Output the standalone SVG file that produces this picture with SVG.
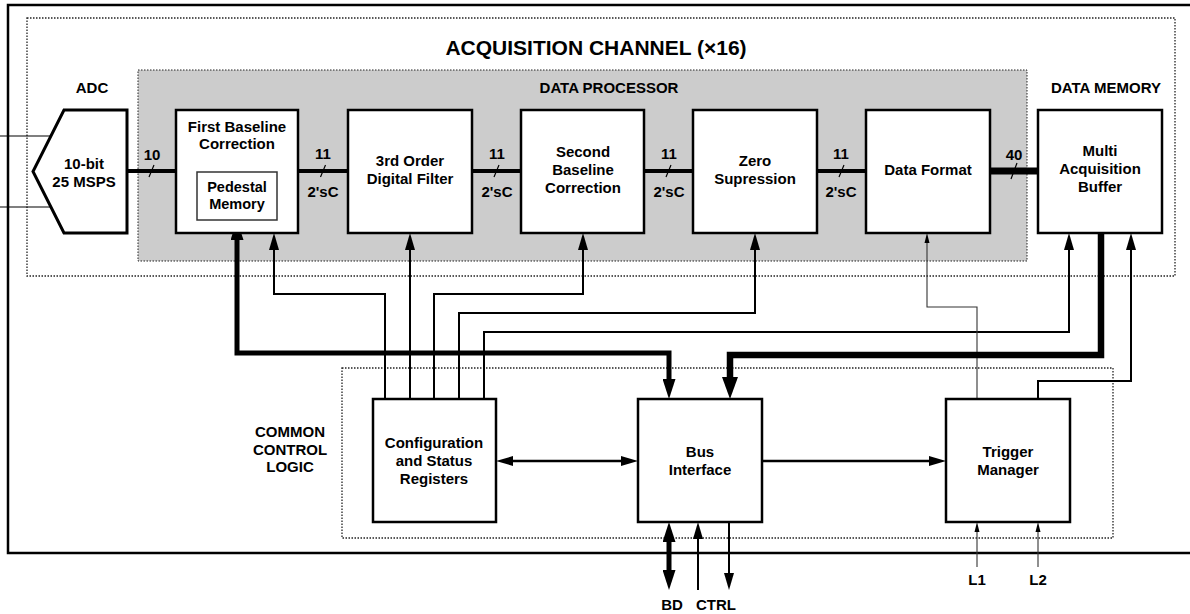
<svg xmlns="http://www.w3.org/2000/svg" width="1190" height="614" viewBox="0 0 1190 614">
<style>
text{font-family:"Liberation Sans",Arial,Helvetica,sans-serif;font-weight:bold;font-size:15px;fill:#000;text-anchor:middle}
.title{font-size:21px}
.small{font-size:14.5px}
.box{fill:#fff;stroke:#000;stroke-width:2.5}
.inner{fill:#fff;stroke:#333;stroke-width:1.5}
.dot{fill:none;stroke:#222;stroke-width:1.3;stroke-dasharray:1.5 1.5}
.grey{fill:#cccccc;stroke:#222;stroke-width:1;stroke-dasharray:1.5 1.5}
.frame{fill:none;stroke:#000;stroke-width:2.5}
.bus{fill:none;stroke:#000;stroke-width:4}
.bus40{fill:none;stroke:#000;stroke-width:7}
.tick{fill:none;stroke:#000;stroke-width:1.2}
.ctl{fill:none;stroke:#000;stroke-width:2;marker-end:url(#ah)}
.thin{fill:none;stroke:#333;stroke-width:1.1;marker-end:url(#as)}
.in{fill:none;stroke:#000;stroke-width:1.2}
</style>
<defs>
<marker id="ah" markerUnits="userSpaceOnUse" markerWidth="17" markerHeight="10" refX="2" refY="5" orient="auto-start-reverse"><path d="M0,0 L17,5 L0,10 z" fill="#000"/></marker>
<marker id="at" markerUnits="userSpaceOnUse" markerWidth="20" markerHeight="13" refX="2" refY="6.5" orient="auto-start-reverse"><path d="M0,0 L20,6.5 L0,13 z" fill="#000"/></marker>
<marker id="aH" markerUnits="userSpaceOnUse" markerWidth="22" markerHeight="16" refX="2" refY="8" orient="auto-start-reverse"><path d="M0,0 L22,8 L0,16 z" fill="#000"/></marker>
<marker id="as" markerUnits="userSpaceOnUse" markerWidth="10" markerHeight="6" refX="2" refY="3" orient="auto-start-reverse"><path d="M0,0.5 L10,3 L0,5.5 z" fill="#000"/></marker>
</defs>

<g id="frames">
<rect class="frame" x="8" y="5" width="1190" height="548"/>
<rect class="dot" x="27" y="18" width="1148" height="258"/>
<rect class="grey" x="138" y="70" width="889" height="191"/>
<rect class="dot" x="342" y="368" width="771" height="170"/>
<text class="title" x="596" y="55">ACQUISITION CHANNEL (×16)</text>
<text x="609" y="93">DATA PROCESSOR</text>
<text x="1106" y="93">DATA MEMORY</text>
<text x="92" y="93">ADC</text>
<text x="290" y="437">COMMON</text>
<text x="290" y="455">CONTROL</text>
<text x="290" y="472">LOGIC</text>
</g>

<g id="connectors">
<path class="in" d="M0,136 H51 M0,207 H51"/>
<path class="bus" d="M127,171 H176 M298,171 H348 M472,171 H521 M644,171 H693 M817,171 H866"/>
<path class="bus40" d="M990,171 H1038"/>
<path class="tick" d="M149,177 L154,165 M320.5,177 L325.5,165 M494,177 L499,165 M666,177 L671,165 M839,177 L844,165 M1011,179 L1017,163"/>
<text x="152" y="160">10</text>
<text x="323" y="159">11</text>
<text x="497" y="159">11</text>
<text x="669" y="159">11</text>
<text x="841" y="159">11</text>
<text x="1014" y="160">40</text>
<text x="323" y="197">2'sC</text>
<text x="497" y="197">2'sC</text>
<text x="669" y="197">2'sC</text>
<text x="841" y="197">2'sC</text>

<path class="ctl" d="M385,399 V294 H274 V248"/>
<path class="ctl" d="M410,399 V248"/>
<path class="ctl" d="M434,399 V294 H583 V248"/>
<path class="ctl" d="M459,399 V313 H755 V248"/>
<path class="ctl" d="M484,399 V332 H1069 V248"/>
<path class="thin" d="M977,399 V307 H927 V241"/>
<path class="ctl" d="M1038,399 V381 H1131 V248"/>
<path d="M237,238 V353 H669 V381" fill="none" stroke="#000" stroke-width="5" marker-start="url(#at)" marker-end="url(#at)"/>
<path d="M1101,233 V355 H730 V379" fill="none" stroke="#000" stroke-width="6.5" marker-end="url(#aH)"/>
<path d="M511,461 H623" fill="none" stroke="#000" stroke-width="2.5" marker-start="url(#ah)" marker-end="url(#ah)"/>
<path d="M762,461 H931" fill="none" stroke="#000" stroke-width="2.5" marker-end="url(#ah)"/>
<path d="M669,540 V572" fill="none" stroke="#000" stroke-width="5" marker-start="url(#at)" marker-end="url(#at)"/>
<path class="ctl" d="M698,590 V537"/>
<path class="ctl" d="M729,522 V575"/>
<path class="thin" d="M977,567 V530"/>
<path class="thin" d="M1038,567 V530"/>
<text x="672" y="610">BD</text>
<text x="716" y="610">CTRL</text>
<text x="977" y="585">L1</text>
<text x="1038" y="585">L2</text>
</g>

<g id="adc">
<polygon points="64,110 127,110 127,233 64,233 33,171.5" fill="#fff" stroke="#000" stroke-width="3" stroke-linejoin="miter"/>
<text x="84" y="169">10-bit</text>
<text x="84" y="187">25 MSPS</text>
</g>

<g id="first-baseline">
<rect class="box" x="176" y="110" width="122" height="123"/>
<text x="237" y="132">First Baseline</text>
<text x="237" y="149">Correction</text>
<g id="pedestal-memory">
<rect class="inner" x="197" y="172" width="80" height="48"/>
<text class="small" x="237" y="192">Pedestal</text>
<text class="small" x="237" y="209">Memory</text>
</g>
</g>

<g id="digital-filter">
<rect class="box" x="348" y="110" width="124" height="123"/>
<text x="410" y="166">3rd Order</text>
<text x="410" y="184">Digital Filter</text>
</g>

<g id="second-baseline">
<rect class="box" x="521" y="110" width="123" height="123"/>
<text x="583" y="157">Second</text>
<text x="583" y="175">Baseline</text>
<text x="583" y="193">Correction</text>
</g>

<g id="zero-suppression">
<rect class="box" x="693" y="110" width="124" height="123"/>
<text x="755" y="166">Zero</text>
<text x="755" y="184">Supression</text>
</g>

<g id="data-format">
<rect class="box" x="866" y="110" width="124" height="123"/>
<text x="928" y="175">Data Format</text>
</g>

<g id="multi-buffer">
<rect class="box" x="1038" y="110" width="124" height="123"/>
<text x="1100" y="156">Multi</text>
<text x="1100" y="174">Acquisition</text>
<text x="1100" y="192">Buffer</text>
</g>

<g id="config-status">
<rect class="box" x="373" y="399" width="123" height="123"/>
<text x="434" y="448">Configuration</text>
<text x="434" y="466">and Status</text>
<text x="434" y="484">Registers</text>
</g>

<g id="bus-interface">
<rect class="box" x="638" y="399" width="124" height="123"/>
<text x="700" y="457">Bus</text>
<text x="700" y="475">Interface</text>
</g>

<g id="trigger-manager">
<rect class="box" x="946" y="399" width="124" height="123"/>
<text x="1008" y="457">Trigger</text>
<text x="1008" y="475">Manager</text>
</g>
</svg>
